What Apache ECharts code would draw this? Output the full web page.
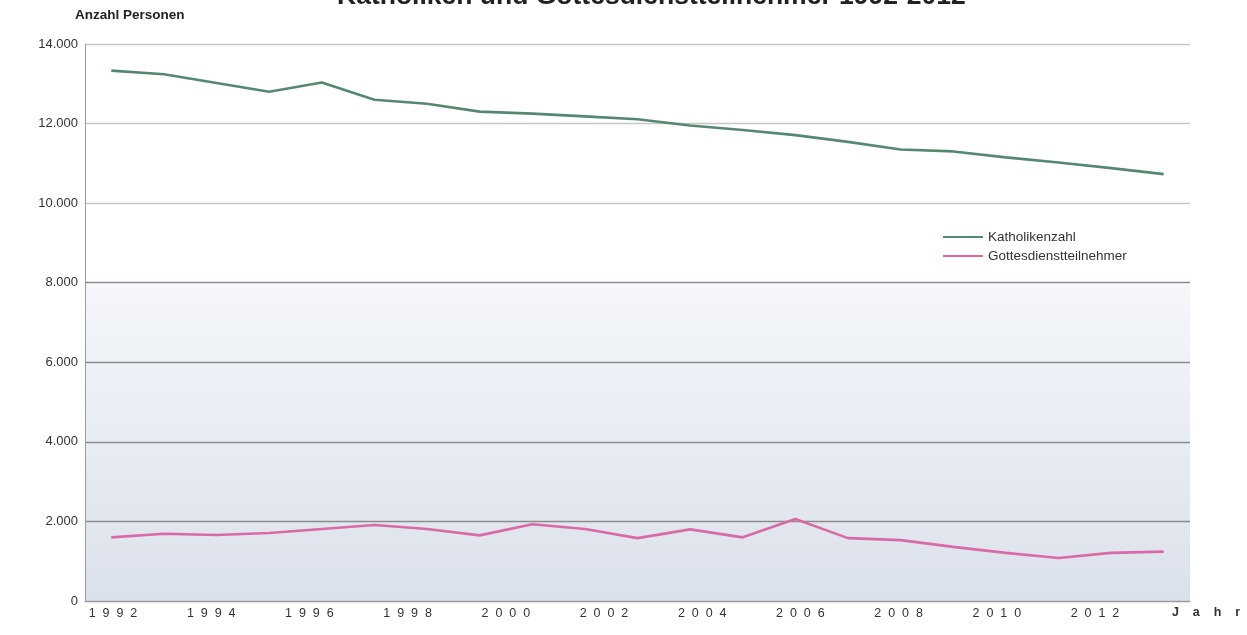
<!DOCTYPE html>
<html>
<head>
<meta charset="utf-8">
<script src="https://cdn.jsdelivr.net/npm/echarts@6/dist/echarts.min.js"></script>
<style>
  html, body { margin: 0; padding: 0; background: #fff; }
  #main { width: 1247px; height: 635px; }
</style>
</head>
<body>
<div id="main"></div>
<script>
// data
const years = ['1992', '1993', '1994', '1995', '1996', '1997', '1998', '1999', '2000', '2001', '2002',
  '2003', '2004', '2005', '2006', '2007', '2008', '2009', '2010', '2011', '2012']
const katholiken = [13330, 13240, 13020, 12800, 13030, 12600, 12500, 12300, 12250, 12180, 12110,
  11950, 11840, 11710, 11540, 11350, 11300, 11150, 11020, 10880, 10730]
const gottesdienst = [1600, 1690, 1660, 1710, 1810, 1910, 1810, 1650, 1930, 1810, 1580,
  1800, 1600, 2060, 1580, 1530, 1360, 1210, 1080, 1210, 1240]
const seriesNames = ['Katholikenzahl', 'Gottesdienstteilnehmer']

function fmt(v) {
  return String(v).replace(/\B(?=(\d{3})+(?!\d))/g, '.')
}
function spaced(s) {
  return s.split('').join('  ')
}

const chart = echarts.init(document.getElementById('main'))
const option = {
  animation: false,
  textStyle: { fontFamily: 'Liberation Sans, Arial, sans-serif' },
  title: {
    text: 'Katholiken und Gottesdienstteilnehmer 1992-2012',
    left: 332,
    top: -22,
    textStyle: { fontSize: 26.5, fontWeight: 'bold', color: '#222' },
  },
  legend: {
    orient: 'vertical',
    left: 938,
    top: 225,
    icon: 'rect',
    itemWidth: 40,
    itemHeight: 2,
    itemGap: 5,
    textStyle: { fontSize: 13.5, color: '#333' },
    data: seriesNames,
  },
  grid: [
    {
      left: 85,
      right: 57,
      top: 44,
      bottom: 34,
      show: true,
      borderWidth: 0,
      backgroundColor: new echarts.graphic.LinearGradient(0, 0, 0, 1, [
        { offset: 0, color: '#ffffff' },
        { offset: 0.42, color: '#ffffff' },
        { offset: 0.44, color: '#f4f6fa' },
        { offset: 1, color: '#dbe1eb' },
      ]),
    },
    // only carries the year labels, which sit a bit tighter than the data
    { left: 113, right: 152, top: 44, bottom: 34 },
  ],
  xAxis: [
    {
      type: 'category',
      gridIndex: 0,
      data: years,
      boundaryGap: true,
      axisLine: { lineStyle: { color: '#9a9a9a', width: 1 } },
      axisTick: { length: 4, lineStyle: { color: '#9a9a9a' } },
      axisLabel: { show: false },
    },
    {
      type: 'category',
      gridIndex: 1,
      data: years,
      boundaryGap: false,
      axisLine: { show: false },
      axisTick: { show: false },
      axisLabel: {
        interval: 1,
        margin: 6,
        fontSize: 12.5,
        color: '#333',
        formatter: (v) => spaced(v),
      },
      name: 'J    a    h    r',
      nameLocation: 'end',
      nameGap: 77,
      nameTextStyle: {
        fontSize: 12.5,
        fontWeight: 'bold',
        color: '#333',
        verticalAlign: 'top',
        padding: [5, 0, 0, 0],
      },
    },
  ],
  yAxis: [
    {
      type: 'value',
      gridIndex: 0,
      min: 0,
      max: 14000,
      interval: 2000,
      name: 'Anzahl Personen',
      nameLocation: 'end',
      nameGap: 22,
      nameTextStyle: {
        fontSize: 13.5,
        fontWeight: 'bold',
        color: '#222',
        align: 'left',
        padding: [0, 0, 0, -10],
      },
      axisLine: { show: true, lineStyle: { color: '#9a9a9a', width: 1 } },
      axisTick: { show: false },
      axisLabel: { fontSize: 13, color: '#333', margin: 7, formatter: fmt },
      splitLine: {
        lineStyle: {
          width: 1.3,
          color: ['#9a9a9a', '#8c8c8c', '#8c8c8c', '#8c8c8c', '#8c8c8c', '#c6c6c6', '#c6c6c6', '#c6c6c6'],
        },
      },
    },
    { type: 'value', gridIndex: 1, min: 0, max: 14000, show: false },
  ],
  series: [
    {
      name: seriesNames[0],
      type: 'line',
      xAxisIndex: 0,
      yAxisIndex: 0,
      data: katholiken,
      symbol: 'none',
      lineStyle: { color: '#55896f', width: 2.6 },
      itemStyle: { color: '#55896f' },
    },
    {
      name: seriesNames[1],
      type: 'line',
      xAxisIndex: 0,
      yAxisIndex: 0,
      data: gottesdienst,
      symbol: 'none',
      lineStyle: { color: '#d96aa6', width: 2.6 },
      itemStyle: { color: '#d96aa6' },
    },
  ],
}
chart.setOption(option)
</script>
</body>
</html>
